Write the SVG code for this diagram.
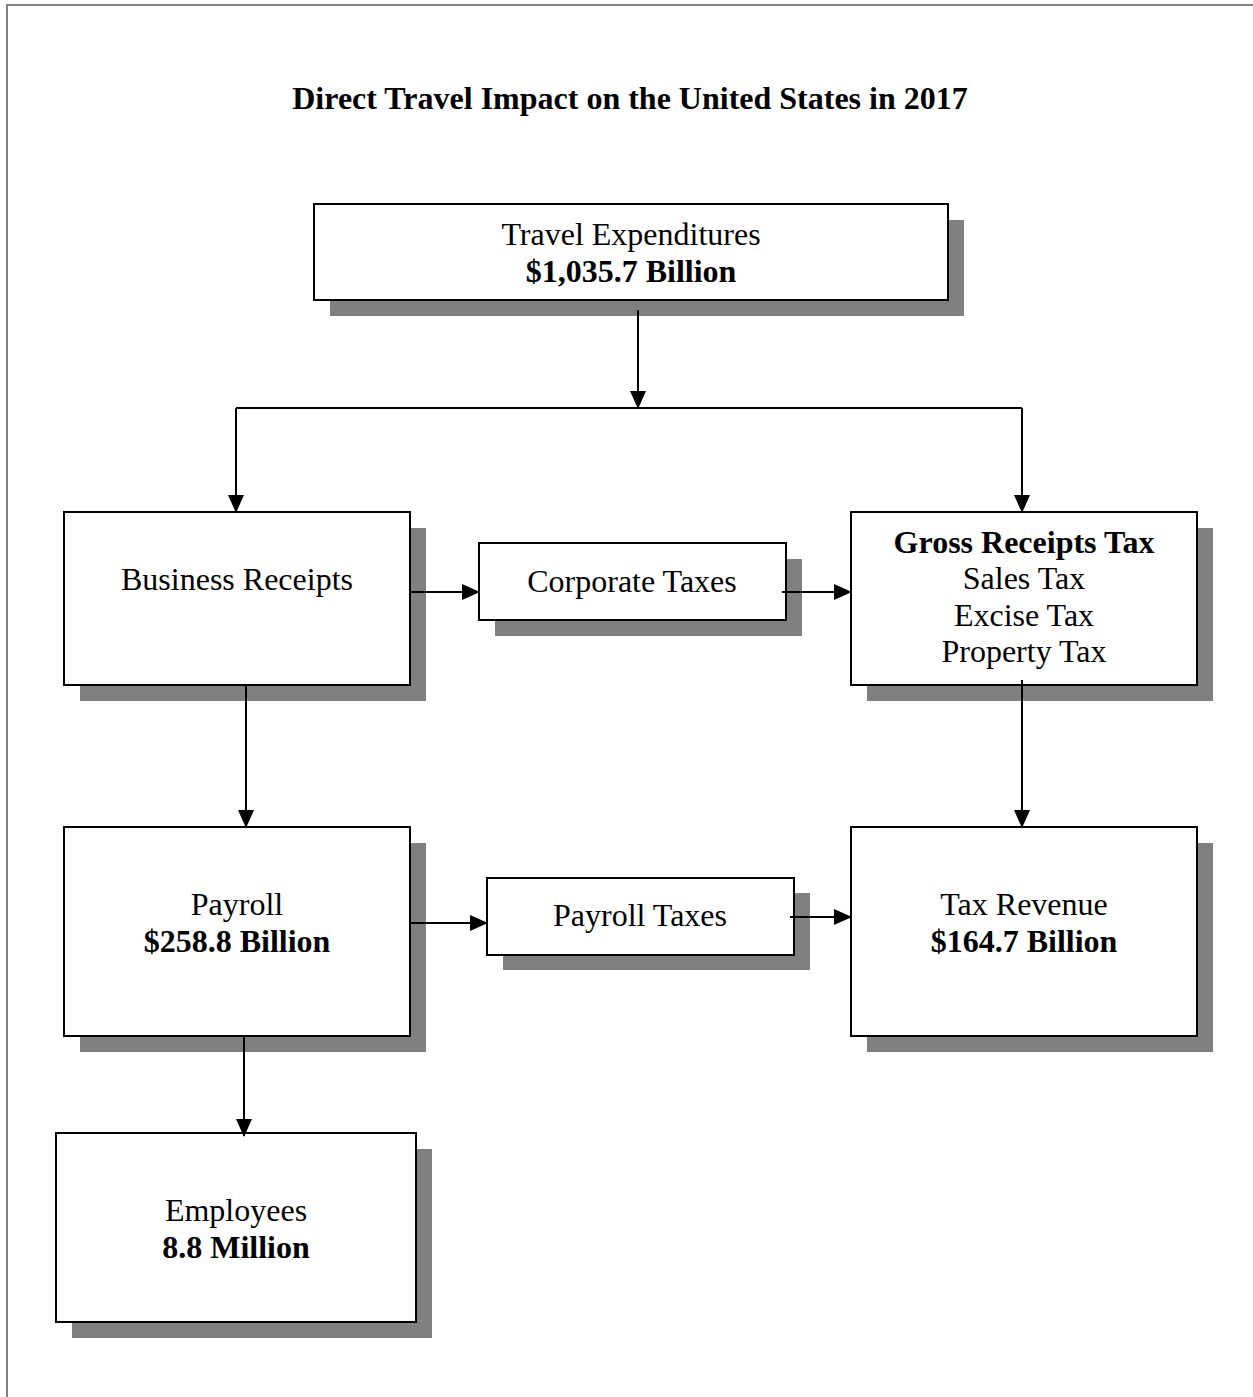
<svg xmlns="http://www.w3.org/2000/svg" width="1253" height="1397" viewBox="0 0 1253 1397">
<style>
.shadow{fill:#808080;stroke:none}
.box{fill:#ffffff;stroke:#000000;stroke-width:2}
.t{font-family:"Liberation Serif","Times New Roman",serif;font-size:32px;fill:#000;text-anchor:middle}
.b{font-weight:bold}
.con{stroke:#000;stroke-width:2;fill:none}
</style>
<defs>
<marker id="arrL" markerWidth="18" markerHeight="16" refX="17" refY="8" orient="auto" markerUnits="userSpaceOnUse" viewBox="0 0 18 16">
<path d="M0,0 L18,8 L0,16 Z" fill="#000"/>
</marker>
</defs>
<rect width="1253" height="1397" fill="#fff"/>
<path d="M7,1397 V5 H1253" fill="none" stroke="#808080" stroke-width="2"/>
<text class="t b" x="630" y="109">Direct Travel Impact on the United States in 2017</text>

<g id="travel-expenditures">
<rect class="shadow" x="330" y="220" width="634" height="96"/>
<rect class="box" x="314" y="204" width="634" height="96"/>
<text class="t" x="631" y="245">Travel Expenditures</text>
<text class="t b" x="631" y="282">$1,035.7 Billion</text>
</g>

<g id="business-receipts">
<rect class="shadow" x="80" y="528" width="346" height="173"/>
<rect class="box" x="64" y="512" width="346" height="173"/>
<text class="t" x="237" y="590">Business Receipts</text>
</g>

<g id="corporate-taxes">
<rect class="shadow" x="495" y="559" width="307" height="77"/>
<rect class="box" x="479" y="543" width="307" height="77"/>
<text class="t" x="632" y="592">Corporate Taxes</text>
</g>

<g id="gross-receipts-tax">
<rect class="shadow" x="867" y="528" width="346" height="173"/>
<rect class="box" x="851" y="512" width="346" height="173"/>
<text class="t b" x="1024" y="553">Gross Receipts Tax</text>
<text class="t" x="1024" y="589">Sales Tax</text>
<text class="t" x="1024" y="626">Excise Tax</text>
<text class="t" x="1024" y="662">Property Tax</text>
</g>

<g id="payroll">
<rect class="shadow" x="80" y="843" width="346" height="209"/>
<rect class="box" x="64" y="827" width="346" height="209"/>
<text class="t" x="237" y="915">Payroll</text>
<text class="t b" x="237" y="952">$258.8 Billion</text>
</g>

<g id="payroll-taxes">
<rect class="shadow" x="503" y="893" width="307" height="77"/>
<rect class="box" x="487" y="878" width="307" height="77"/>
<text class="t" x="640" y="926">Payroll Taxes</text>
</g>

<g id="tax-revenue">
<rect class="shadow" x="867" y="843" width="346" height="209"/>
<rect class="box" x="851" y="827" width="346" height="209"/>
<text class="t" x="1024" y="915">Tax Revenue</text>
<text class="t b" x="1024" y="952">$164.7 Billion</text>
</g>

<g id="employees">
<rect class="shadow" x="72" y="1149" width="360" height="189"/>
<rect class="box" x="56" y="1133" width="360" height="189"/>
<text class="t" x="236" y="1221">Employees</text>
<text class="t b" x="236" y="1258">8.8 Million</text>
</g>

<g id="connectors">
<path class="con" d="M638,310 V408" marker-end="url(#arrL)"/>
<path class="con" d="M236,408 H1022"/>
<path class="con" d="M236,408 V512" marker-end="url(#arrL)"/>
<path class="con" d="M1022,408 V512" marker-end="url(#arrL)"/>
<path class="con" d="M410,592 H479" marker-end="url(#arrL)"/>
<path class="con" d="M782,592 H851" marker-end="url(#arrL)"/>
<path class="con" d="M246,685 V827" marker-end="url(#arrL)"/>
<path class="con" d="M1022,680 V827" marker-end="url(#arrL)"/>
<path class="con" d="M410,923 H487" marker-end="url(#arrL)"/>
<path class="con" d="M790,917 H851" marker-end="url(#arrL)"/>
<path class="con" d="M244,1036 V1136" marker-end="url(#arrL)"/>
</g>
</svg>
